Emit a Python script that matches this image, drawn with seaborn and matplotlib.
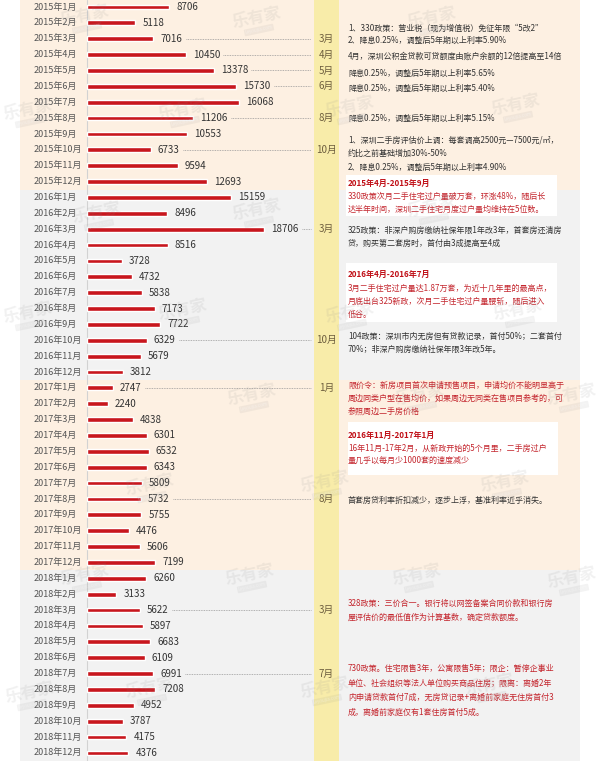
import matplotlib
matplotlib.use("Agg")
import matplotlib.pyplot as plt
from matplotlib.patches import Rectangle
import seaborn as sns
import pandas as pd

# 数据：深圳二手住宅月度过户量（套）
years = [2015, 2016, 2017, 2018]
month_nums = list(range(1, 13))
labels = [f"{y}年{m}月" for y in years for m in month_nums]
volume = [8706, 5118, 7016, 10450, 13378, 15730, 16068, 11206, 10553, 6733, 9594, 12693,
          15159, 8496, 18706, 8516, 3728, 4732, 5838, 7173, 7722, 6329, 5679, 3812,
          2747, 2240, 4838, 6301, 6532, 6343, 5809, 5732, 5755, 4476, 5606, 7199,
          6260, 3133, 5622, 5897, 6683, 6109, 6991, 7208, 4952, 3787, 4175, 4376]

# 政策节点（对应行号与月份）
event_rows = [2, 3, 4, 5, 7, 9, 14, 21, 24, 31, 38, 42]
event_months = ["3月", "4月", "5月", "6月", "8月", "10月", "3月", "10月", "1月", "8月", "3月", "7月"]

BLACK = "#333333"
RED = "#C4262E"
DRED = "#C00F17"

# 右侧政策说明：(像素y, 文本, 颜色, 粗细)
notes = [
    (28, "1、330政策：营业税（现为增值税）免征年限“5改2”", BLACK, "normal"),
    (40, "2、降息0.25%，调整后5年期以上利率5.90%", BLACK, "normal"),
    (56, "4月，深圳公积金贷款可贷额度由账户余额的12倍提高至14倍", BLACK, "normal"),
    (73, "降息0.25%，调整后5年期以上利率5.65%", BLACK, "normal"),
    (88, "降息0.25%，调整后5年期以上利率5.40%", BLACK, "normal"),
    (118, "降息0.25%，调整后5年期以上利率5.15%", BLACK, "normal"),
    (140, "1、深圳二手房评估价上调：每套调高2500元—7500元/㎡，", BLACK, "normal"),
    (153, "约比之前基础增加30%-50%", BLACK, "normal"),
    (167, "2、降息0.25%，调整后5年期以上利率4.90%", BLACK, "normal"),
    (183, "2015年4月-2015年9月", DRED, "bold"),
    (196, "330政策次月二手住宅过户量破万套，环涨48%，随后长", RED, "normal"),
    (209, "达半年时间，深圳二手住宅月度过户量均维持在5位数。", RED, "normal"),
    (230, "325政策：非深户购房缴纳社保年限1年改3年，首套房还清房", BLACK, "normal"),
    (243, "贷，购买第二套房时，首付由3成提高至4成", BLACK, "normal"),
    (274, "2016年4月-2016年7月", DRED, "bold"),
    (288, "3月二手住宅过户量达1.87万套，为近十几年里的最高点，", RED, "normal"),
    (301, "月底出台325新政，次月二手住宅过户量腰斩，随后进入", RED, "normal"),
    (314, "低谷。", RED, "normal"),
    (336, "104政策：深圳市内无房但有贷款记录，首付50%；二套首付", BLACK, "normal"),
    (349, "70%；非深户购房缴纳社保年限3年改5年。", BLACK, "normal"),
    (385, "限价令：新房项目首次申请预售项目，申请均价不能明显高于", RED, "normal"),
    (398, "周边同类户型在售均价，如果周边无同类在售项目参考的，可", RED, "normal"),
    (411, "参照周边二手房价格", RED, "normal"),
    (435, "2016年11月-2017年1月", DRED, "bold"),
    (448, "16年11月-17年2月，从新政开始的5个月里，二手房过户", RED, "normal"),
    (460, "量几乎以每月少1000套的速度减少", RED, "normal"),
    (500, "首套房贷利率折扣减少，逐步上浮，基准利率近乎消失。", BLACK, "normal"),
    (603, "328政策：三价合一。银行将以网签备案合同价款和银行房", RED, "normal"),
    (617, "屋评估价的最低值作为计算基数，确定贷款额度。", RED, "normal"),
    (668, "730政策。住宅限售3年，公寓限售5年；限企：暂停企事业", RED, "normal"),
    (683, "单位、社会组织等法人单位购买商品住房；限离：离婚2年", RED, "normal"),
    (697, "内申请贷款首付7成，无房贷记录+离婚前家庭无住房首付3", RED, "normal"),
    (712, "成，离婚前家庭仅有1套住房首付5成。", RED, "normal"),
]

# 白色说明框（像素范围）
boxes = [(346, 175, 557, 216), (346, 263, 557, 322), (348, 422, 558, 475)]

# 水印位置
watermarks = [(85, 16), (257, 18), (432, 18), (28, 110), (183, 110), (350, 107), (516, 105),
              (97, 213), (257, 210), (432, 207), (28, 313), (183, 310), (350, 313), (518, 310),
              (252, 395), (420, 395), (572, 395), (150, 485), (325, 482), (505, 482),
              (85, 575), (250, 575), (417, 575), (572, 578), (30, 693), (150, 688),
              (325, 688), (490, 685)]

df = pd.DataFrame({"month": labels, "volume": volume})

sns.set_theme(style="white")
plt.rcParams['font.family'] = ['Noto Sans CJK SC', 'DejaVu Sans']

fig = plt.figure(figsize=(6, 7.61), dpi=100)
ax = fig.add_axes([0, 0, 1, 1])

K = 0.0095      # 每套对应像素
X0 = 86.7       # 零点像素
ROW0, ROWH = 7.0, 15.87


def dx(px):
    return (px - X0) / K


def dy(py):
    return (py - ROW0) / ROWH


# 年份背景
band_colors = ["#FDF0E2", "#F2F2F2", "#FDF0E2", "#F2F2F2"]
for i, c in enumerate(band_colors):
    ax.axhspan(i * 12 - 0.5 if i else dy(-2), i * 12 + 11.5 if i < 3 else dy(765),
               xmin=20 / 600, xmax=580 / 600, color=c, zorder=0, lw=0)

# 黄色月份栏
ax.axvspan(dx(314), dx(339), color="#F8ECA9", zorder=0.5, lw=0)

sns.barplot(data=df, x="volume", y="month", orient="h", color="#C8161D",
            saturation=1, width=0.3, ax=ax, zorder=3)
ax.axvline(0, color="#D2D2D2", lw=0.8, zorder=2)

for i, (lab, v) in enumerate(zip(labels, volume)):
    ax.text(dx(34), i, lab, ha="left", va="center", fontsize=6.5, color="#555555", zorder=4)
    ax.text(v + 7 / K, i, f"{v}", ha="left", va="center", fontsize=7, color=BLACK, zorder=4)

for r, m in zip(event_rows, event_months):
    v = volume[r]
    start = v + (7 + len(str(v)) * 5.3 + 4) / K
    ax.plot([start, dx(311)], [r, r], ls=(0, (1, 1)), color="#9A9A9A", lw=0.6, zorder=2)
    ax.text(dx(326.5), r, m, ha="center", va="center", fontsize=7, color="#6D5E3E", zorder=4)

for x0, y0, x1, y1 in boxes:
    ax.add_patch(Rectangle((dx(x0), dy(y0)), dx(x1) - dx(x0), dy(y1) - dy(y0),
                           facecolor="white", edgecolor="none", zorder=1))

for py, txt, c, w in notes:
    ax.text(dx(348), dy(py), txt, ha="left", va="center", fontsize=5.8,
            color=c, fontweight=w, zorder=4)

for px, py in watermarks:
    ax.text(dx(px), dy(py), "乐有家", ha="center", va="center", fontsize=12,
            color="#8A8A8A", alpha=0.12, rotation=12, fontweight="bold", zorder=5)
    ax.text(dx(px + 2), dy(py + 12), "Leyoujia.com", ha="center", va="center", fontsize=3.2,
            color="white", rotation=12, zorder=5, alpha=0.4,
            bbox=dict(boxstyle="round,pad=0.2", fc="#8A8A8A", ec="none", alpha=0.1))

ax.set_xlim(dx(0), dx(600))
ax.set_ylim(dy(761), dy(0))
ax.set_xticks([])
ax.set_yticks([])
ax.set_xlabel("")
ax.set_ylabel("")
for s in ax.spines.values():
    s.set_visible(False)

fig.savefig("out.png", dpi=100, facecolor="white")
